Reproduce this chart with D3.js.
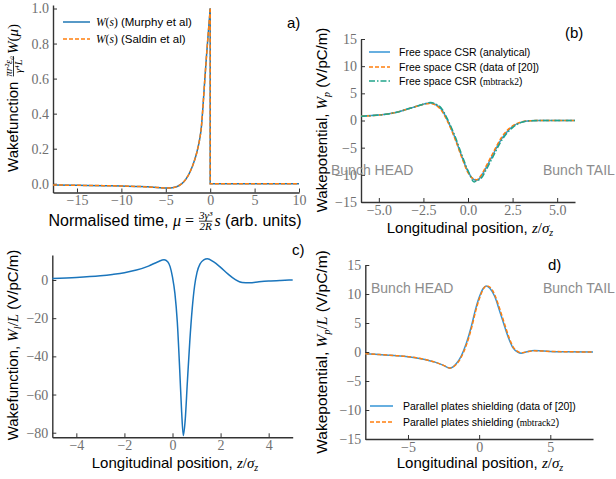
<!DOCTYPE html>
<html>
<head>
<meta charset="utf-8">
<script src="https://cdn.jsdelivr.net/npm/d3@7"></script>
<style>
  body { margin: 0; background: #fff; }
  text { white-space: pre; }
</style>
</head>
<body>
<script>
// ---- data ----
// a) normalised wakefunction
var muRise = [-17.7, -15, -12, -10, -8, -6, -5, -4.5, -4, -3.5, -3, -2.5, -2, -1.5, -1.2, -1, -0.8, -0.6, -0.4, -0.2, 0];
var wMurphy = [-0.007, -0.009, -0.011, -0.013, -0.016, -0.021, -0.024, -0.024, -0.02, -0.01, 0.01, 0.045, 0.1, 0.18, 0.25, 0.32, 0.45, 0.6, 0.74, 0.87, 1.0];
var wSaldin = [-0.007, -0.009, -0.011, -0.013, -0.016, -0.021, -0.024, -0.024, -0.02, -0.01, 0.01, 0.045, 0.1, 0.18, 0.25, 0.32, 0.45, 0.6, 0.74, 0.87, 0.99];
var muTail = [0, 0, 10];
var wTail = [1.0, 0, 0];

// b) free space CSR
var zB = [-6, -5, -4.5, -4, -3.4, -3, -2.5, -2.1, -1.8, -1.5, -1.1, -0.75, -0.35, 0, 0.35, 0.5, 0.75, 1.0, 1.35, 1.9, 2.5, 3.0, 3.5, 4, 5, 6];
var wAnalytical = [0.8, 1.0, 1.2, 1.5, 2.1, 2.5, 3.0, 3.2, 2.9, 2.1, -0.3, -3.0, -6.6, -9.4, -10.9, -11.0, -10.2, -8.8, -6.6, -3.3, -1.1, -0.3, -0.05, 0, 0, 0];
var wData20 = [0.8, 1.0, 1.2, 1.5, 2.1, 2.5, 3.0, 3.15, 2.8, 1.9, -0.5, -3.2, -6.8, -9.6, -10.8, -10.9, -10.0, -8.5, -6.3, -3.0, -1.0, -0.25, -0.05, 0, 0, 0];
var wMbtrack2B = [0.8, 1.0, 1.2, 1.5, 2.1, 2.5, 3.0, 3.3, 3.0, 2.3, -0.1, -2.7, -6.3, -9.2, -11.3, -11.1, -10.6, -9.2, -7.0, -3.6, -1.3, -0.35, -0.05, 0, 0, 0];

// c) wakefunction
var zC = [-5, -4, -3, -2.5, -2, -1.5, -1, -0.6, -0.35, -0.2, -0.1, 0, 0.1, 0.2, 0.3, 0.38, 0.45, 0.53, 0.62, 0.72, 0.82, 0.92, 1.02, 1.15, 1.3, 1.45, 1.7, 2.0, 2.3, 2.6, 2.9, 3.2, 3.6, 4, 4.5, 5];
var wC = [0.8, 1.3, 2.2, 2.9, 3.8, 5.2, 7.3, 9.6, 10.6, 9.6, 7.0, 1.5, -7, -22, -47, -69, -81.5, -73, -53, -32, -15, -3, 4, 8.5, 10.6, 11.2, 9.6, 6.6, 3.2, 0.3, -1.3, -1.4, -0.9, -0.5, -0.2, 0];

// d) parallel plates shielding
var zD = [-8, -7, -6, -5, -4, -3.1, -2.5, -2.05, -1.6, -1.26, -0.9, -0.55, -0.25, 0.03, 0.3, 0.5, 0.75, 1.09, 1.45, 1.79, 2.1, 2.38, 2.7, 2.95, 3.3, 3.9, 5, 6, 8];
var wPlates20 = [-0.3, -0.45, -0.6, -0.8, -1.2, -1.75, -2.3, -2.8, -2.0, -0.7, 1.5, 4.4, 7.4, 9.6, 11.0, 11.4, 11.0, 9.6, 7.0, 4.4, 2.2, 0.7, 0.0, -0.2, 0.0, 0.25, 0.1, 0.05, 0];
var wPlatesMb = [-0.3, -0.45, -0.6, -0.8, -1.2, -1.75, -2.3, -2.75, -2.1, -0.9, 1.2, 4.0, 7.0, 9.3, 10.9, 11.4, 11.2, 9.9, 7.4, 4.8, 2.5, 0.9, 0.1, -0.15, 0.0, 0.2, 0.1, 0.05, 0];

// tick labels
var ticksAx = [-15, -10, -5, 0, 5, 10], ticksAy = [0, 0.2, 0.4, 0.6, 0.8, 1.0];
var ticksBx = [-5, -2.5, 0, 2.5, 5], ticksBy = [-15, -10, -5, 0, 5, 10, 15];
var ticksCx = [-4, -2, 0, 2, 4], ticksCy = [-80, -60, -40, -20, 0];
var ticksDx = [-5, 0, 5], ticksDy = [-15, -10, -5, 0, 5, 10, 15];

var SANS = "'Liberation Sans', Arial, sans-serif",
	SERIF = "'Liberation Serif', 'DejaVu Serif', serif",
	blue = "#1f77b4", blue2 = "#3594d6", orange = "#ff7f0e", teal = "#21a48a";

var svg = d3.select("body").append("svg")
	.attr("width", 616).attr("height", 479);

function pairs(xs, ys){ return xs.map((x, i) => [x, ys[i]]); }

function panel(o){
	var x = d3.scaleLinear().domain(o.xd).range([o.l, o.r]),
		y = d3.scaleLinear().domain(o.yd).range([o.b, o.t]);
	var ax = svg.append("g").attr("transform", "translate(0," + o.b + ")")
		.call(d3.axisBottom(x).tickValues(o.tx).tickFormat(d3.format(o.fx)).tickSizeInner(-4).tickSizeOuter(0).tickPadding(3));
	var ay = svg.append("g").attr("transform", "translate(" + o.l + ",0)")
		.call(d3.axisLeft(y).tickValues(o.ty).tickFormat(d3.format(o.fy)).tickSizeInner(-4).tickSizeOuter(0).tickPadding(4));
	[ax, ay].forEach(a => {
		a.select(".domain").attr("stroke", "#333").attr("stroke-width", 1.4);
		a.selectAll(".tick line").attr("stroke", "#333").attr("stroke-width", 1);
		a.selectAll(".tick text").attr("fill", "#707070").style("font-family", SERIF).style("font-size", "14px");
	});
	return {x: x, y: y};
}

function drawLine(p, pts, color, dash, curve){
	svg.append("path").datum(pts)
		.attr("fill", "none").attr("stroke", color).attr("stroke-width", 1.5)
		.attr("stroke-dasharray", dash || null)
		.attr("d", d3.line().x(d => p.x(d[0])).y(d => p.y(d[1])).curve(curve || d3.curveMonotoneX));
}

// rich text: parts of plain text, math italics and small fractions
function rich(g, parts, size){
	var cx = 0;
	parts.forEach(pt => {
		if (pt.num){
			var fs = size * 0.7, bar = -size * 0.3;
			var n = g.append("text").attr("y", bar - 2).text(pt.num)
				.style("font-family", SERIF).style("font-style", "italic").style("font-size", fs + "px");
			var d = g.append("text").attr("y", bar + fs * 0.8).text(pt.den)
				.style("font-family", SERIF).style("font-style", "italic").style("font-size", fs + "px");
			var wn = n.node().getComputedTextLength(), wd = d.node().getComputedTextLength(), w = Math.max(wn, wd);
			n.attr("x", cx + 1 + (w - wn) / 2);
			d.attr("x", cx + 1 + (w - wd) / 2);
			g.append("line").attr("x1", cx + 1).attr("x2", cx + 1 + w).attr("y1", bar).attr("y2", bar)
				.attr("stroke", "#000").attr("stroke-width", 0.8);
			cx += w + 3;
		} else {
			var fs2 = pt.s || size;
			var t = g.append("text").attr("x", cx).attr("y", pt.dy || 0).text(pt.t)
				.style("font-family", pt.m ? SERIF : SANS)
				.style("font-style", pt.m && !pt.up ? "italic" : "normal")
				.style("font-size", fs2 + "px").attr("fill", "#000");
			cx += t.node().getComputedTextLength();
		}
	});
	return cx;
}

function xLabel(cx, base, parts, size){
	var g = svg.append("g");
	var w = rich(g, parts, size);
	g.attr("transform", "translate(" + (cx - w / 2) + "," + base + ")");
}
function yLabel(xb, cy, parts, size){
	var g = svg.append("g");
	var w = rich(g, parts, size);
	g.attr("transform", "translate(" + xb + "," + (cy + w / 2) + ") rotate(-90)");
}

function legend(x0, ys, items, size){
	items.forEach((it, i) => {
		svg.append("line").attr("x1", x0).attr("x2", x0 + it.len).attr("y1", ys[i] - 4).attr("y2", ys[i] - 4)
			.attr("stroke", it.c).attr("stroke-width", 1.5).attr("stroke-dasharray", it.dash || null);
		var g = svg.append("g").attr("transform", "translate(" + (x0 + it.gap) + "," + ys[i] + ")");
		rich(g, it.parts, size);
	});
}

function note(x, y, s, size){
	svg.append("text").attr("x", x).attr("y", y).text(s)
		.style("font-family", SANS).style("font-size", size + "px").attr("fill", "#000");
}
function gray(x, y, s){
	svg.append("text").attr("x", x).attr("y", y).text(s)
		.style("font-family", SANS).style("font-size", "14px").attr("fill", "#8c8c8c");
}

var zLab = [{t: "Longitudinal position, "}, {t: "z", m: 1}, {t: "/", m: 1, up: 1}, {t: "σ", m: 1}, {t: "z", m: 1, s: 10, dy: 3}];

// ---- a) ----
var pa = panel({xd: [-17.7, 10], yd: [-0.05, 1.02], l: 53, r: 299, t: 5, b: 192.5, tx: ticksAx, ty: ticksAy, fx: "d", fy: ".1f"});
drawLine(pa, pairs(muRise, wMurphy), blue);
drawLine(pa, pairs(muTail, wTail), blue, null, d3.curveLinear);
drawLine(pa, pairs(muRise, wSaldin), orange, "4,2");
drawLine(pa, pairs(muTail, wTail), orange, "4,2", d3.curveLinear);
legend(63, [26, 43], [
	{c: blue, len: 27, gap: 33, parts: [{t: "W", m: 1}, {t: "(", m: 1, up: 1}, {t: "s", m: 1}, {t: ")", m: 1, up: 1}, {t: " (Murphy et al)"}]},
	{c: orange, dash: "4,2", len: 27, gap: 33, parts: [{t: "W", m: 1}, {t: "(", m: 1, up: 1}, {t: "s", m: 1}, {t: ")", m: 1, up: 1}, {t: " (Saldin et al)"}]}
], 11.5);
note(287, 28, "a)", 15);
xLabel(175, 226, [{t: "Normalised time, "}, {t: "μ", m: 1}, {t: " = ", m: 1, up: 1}, {num: "3γ³", den: "2R"}, {t: "s", m: 1}, {t: " (arb. units)"}], 16);
yLabel(18, 98, [{t: "Wakefunction "}, {num: "πr²ε₀", den: "γ⁴L"}, {t: "W", m: 1}, {t: "(", m: 1, up: 1}, {t: "μ", m: 1}, {t: ")", m: 1, up: 1}], 15);

// ---- b) ----
var pb = panel({xd: [-6, 6], yd: [-15, 15], l: 361, r: 575, t: 39, b: 202, tx: ticksBx, ty: ticksBy, fx: ".1f", fy: "d"});
drawLine(pb, pairs(zB, wAnalytical), blue2);
drawLine(pb, pairs(zB, wData20), orange, "4,2");
drawLine(pb, pairs(zB, wMbtrack2B), teal, "6,2,1.5,2");
legend(369, [56, 71, 85], [
	{c: blue2, len: 21, gap: 30, parts: [{t: "Free space CSR (analytical)"}]},
	{c: orange, dash: "4,2", len: 21, gap: 30, parts: [{t: "Free space CSR (data of [20])"}]},
	{c: teal, dash: "6,2,1.5,2", len: 21, gap: 30, parts: [{t: "Free space CSR ("}, {t: "mbtrack2", m: 1, up: 1, s: 9.5}, {t: ")"}]}
], 10.5);
gray(331, 175, "Bunch HEAD");
gray(543, 175, "Bunch TAIL");
note(565, 38, "(b)", 15);
xLabel(470, 233, zLab, 15);
yLabel(327, 120, [{t: "Wakepotential, "}, {t: "W", m: 1}, {t: "p", m: 1, s: 10, dy: 3}, {t: " (V/pC/m)"}], 15);

// ---- c) ----
var pc = panel({xd: [-5, 5], yd: [-82.4, 13.1], l: 52.3, r: 292.7, t: 255, b: 437.3, tx: ticksCx, ty: ticksCy, fx: "d", fy: "d"});
drawLine(pc, pairs(zC, wC), "#1a75bc");
note(292, 255, "c)", 15);
xLabel(175, 468, zLab, 15);
yLabel(18, 345, [{t: "Wakefunction, "}, {t: "W", m: 1}, {t: "l", m: 1, s: 10, dy: 3}, {t: "/", m: 1, up: 1}, {t: "L", m: 1}, {t: " (V/pC/m)"}], 15);

// ---- d) ----
var pd = panel({xd: [-8, 8], yd: [-15, 15], l: 365.3, r: 593, t: 265, b: 439, tx: ticksDx, ty: ticksDy, fx: "d", fy: "d"});
drawLine(pd, pairs(zD, wPlates20), blue2);
drawLine(pd, pairs(zD, wPlatesMb), orange, "4,2");
legend(370, [410, 426], [
	{c: blue2, len: 23, gap: 33, parts: [{t: "Parallel plates shielding (data of [20])"}]},
	{c: orange, dash: "4,2", len: 23, gap: 33, parts: [{t: "Parallel plates shielding ("}, {t: "mbtrack2", m: 1, up: 1, s: 9.5}, {t: ")"}]}
], 10.5);
gray(371, 293, "Bunch HEAD");
gray(543, 293, "Bunch TAIL");
note(548, 270, "d)", 15);
xLabel(480, 468, zLab, 15);
yLabel(327, 352, [{t: "Wakepotential, "}, {t: "W", m: 1}, {t: "p", m: 1, s: 10, dy: 3}, {t: "/", m: 1, up: 1}, {t: "L", m: 1}, {t: " (V/pC/m)"}], 15.5);
</script>
</body>
</html>
